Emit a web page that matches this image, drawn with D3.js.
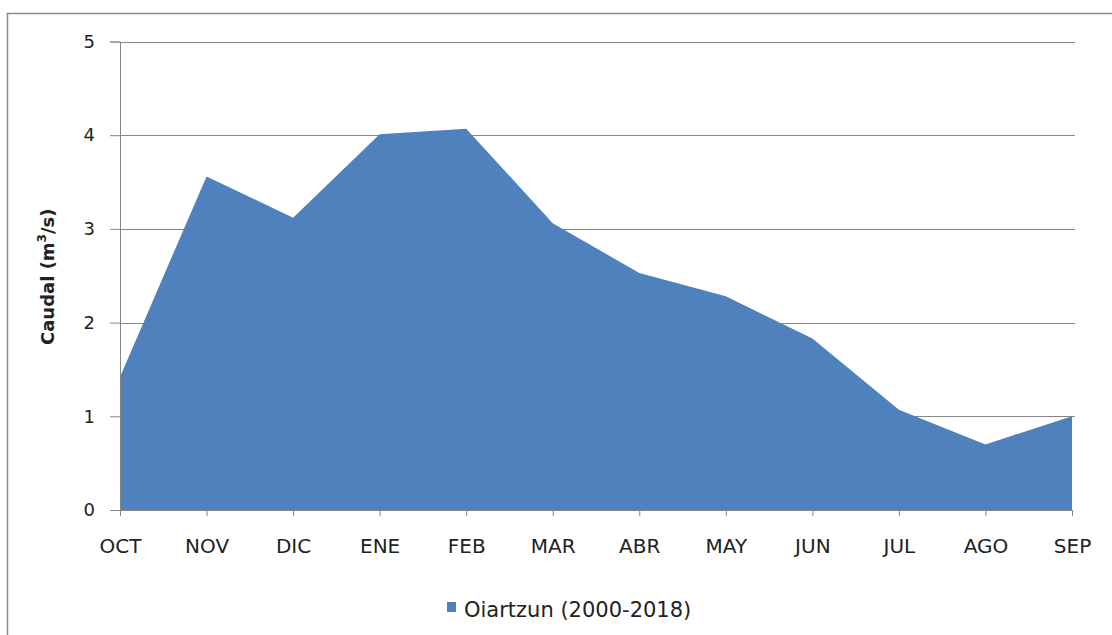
<!DOCTYPE html>
<html>
<head>
<meta charset="utf-8">
<script src="https://cdn.jsdelivr.net/npm/d3@7"></script>
<style>
	body { margin: 0; background: #fff; }
	svg text { font-family: "DejaVu Sans", "Noto Sans", sans-serif; fill: #222; }
</style>
</head>
<body>
<div id="graph"></div>
<script>
const months = ["OCT", "NOV", "DIC", "ENE", "FEB", "MAR", "ABR", "MAY", "JUN", "JUL", "AGO", "SEP"];
const caudal = [1.42, 3.56, 3.12, 4.01, 4.07, 3.06, 2.53, 2.28, 1.83, 1.07, 0.70, 1.0];
const yTicks = [0, 1, 2, 3, 4, 5];
const seriesName = "Oiartzun (2000-2018)";
const fillColor = "#4F81BD";

const [width, height] = [1112, 635];
const plot = { left: 120, right: 1072, top: 41.5, bottom: 510 };

const svg = d3.select("#graph").append("svg").attr("width", width).attr("height", height);

// outer frame (runs off the right and bottom edges)
svg.append("rect")
	.attr("x", 7.5).attr("y", 13.5)
	.attr("width", width + 10).attr("height", height + 10)
	.attr("fill", "none").attr("stroke", "#8c8c8c").attr("stroke-width", 1.5);

const x = d3.scalePoint().domain(months).range([plot.left, plot.right]);
const y = d3.scaleLinear().domain([0, 5]).range([plot.bottom, plot.top]);

// gridlines
svg.append("g").selectAll("line").data(yTicks.filter(d => d > 0)).enter()
	.append("line")
	.attr("x1", plot.left).attr("x2", 1075)
	.attr("y1", d => Math.round(y(d)) + 0.5).attr("y2", d => Math.round(y(d)) + 0.5)
	.attr("stroke", "#868686").attr("stroke-width", 1);

// area
const area = d3.area()
	.x((d, i) => x(months[i]))
	.y0(y(0))
	.y1(d => y(d));
svg.append("path").datum(caudal)
	.attr("d", area)
	.attr("fill", fillColor);

// y axis
const yAxis = d3.axisLeft(y).tickValues(yTicks).tickFormat(d3.format("d")).tickSize(10).tickPadding(15);
const gy = svg.append("g").attr("transform", `translate(${plot.left}, 0)`).call(yAxis);
gy.select(".domain").attr("stroke", "#868686");
gy.selectAll(".tick line").attr("stroke", "#868686");
gy.selectAll(".tick text").attr("font-size", 18).attr("fill", "#222").attr("font-family", null);

// x axis
const xAxis = d3.axisBottom(x).tickSize(6).tickPadding(23);
const gx = svg.append("g").attr("transform", `translate(0, ${plot.bottom})`).call(xAxis);
gx.select(".domain").attr("stroke", "#868686");
gx.selectAll(".tick line").attr("stroke", "#868686");
gx.selectAll(".tick text").attr("font-size", 20).attr("fill", "#222").attr("font-family", null);

// y label
const yl = svg.append("text")
	.attr("transform", `translate(54, ${(plot.top + plot.bottom) / 2 + 1}) rotate(-90)`)
	.attr("text-anchor", "middle")
	.attr("font-family", "'Open Sans', sans-serif")
	.attr("font-size", 18).attr("font-weight", "bold");
yl.append("tspan").text("Caudal (m");
yl.append("tspan").attr("font-size", 12).attr("dy", -8).text("3");
yl.append("tspan").attr("dy", 8).text("/s)");

// legend
const legend = svg.append("g").attr("transform", "translate(447, 617)");
legend.append("rect").attr("x", 0).attr("y", -15).attr("width", 9).attr("height", 10).attr("fill", fillColor);
legend.append("text").attr("x", 17).attr("y", 0).attr("font-size", 21).text(seriesName);
</script>
</body>
</html>
